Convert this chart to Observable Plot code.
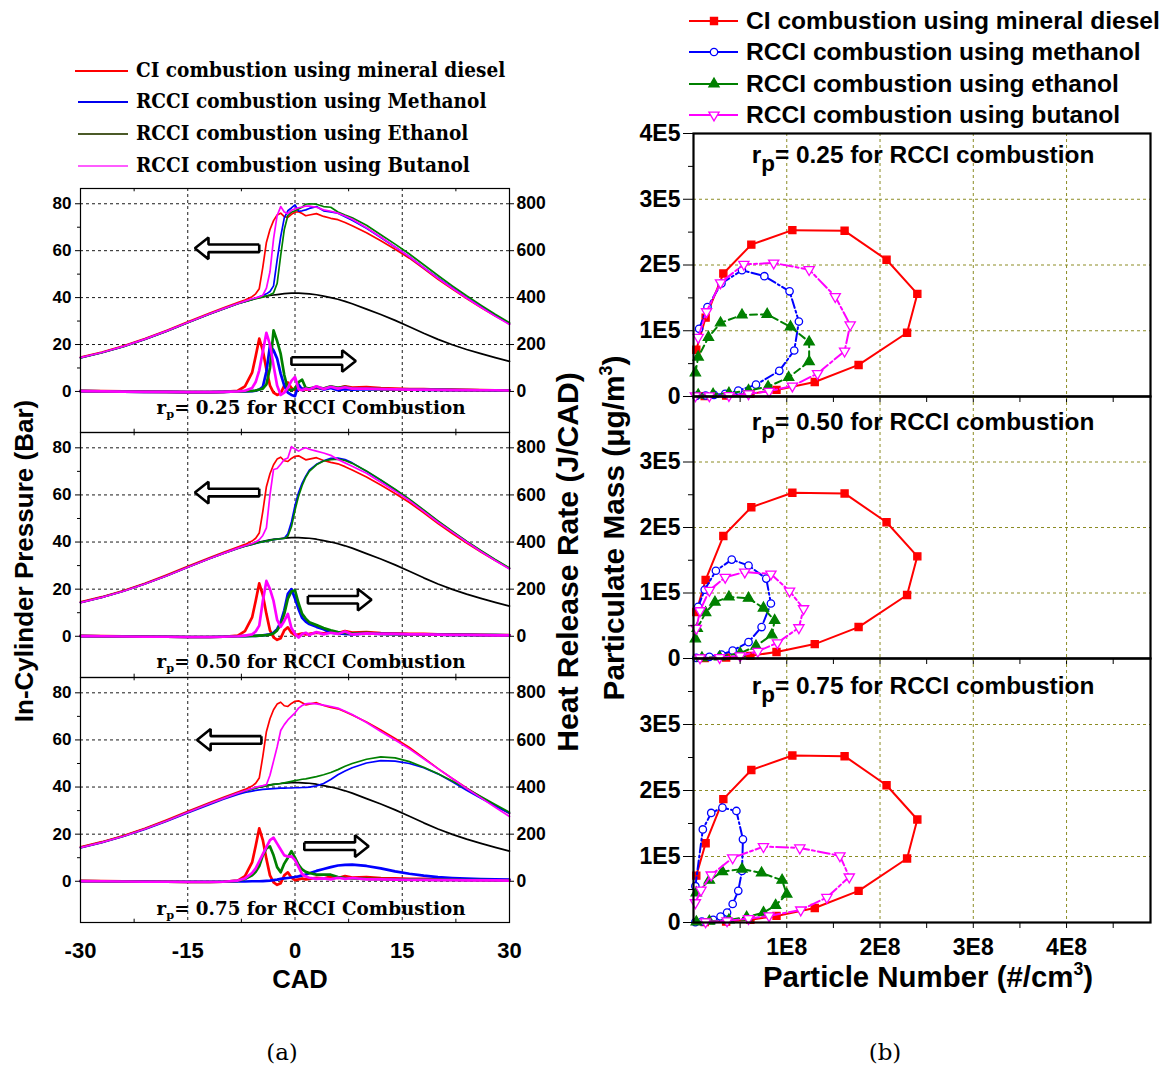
<!DOCTYPE html>
<html>
<head>
<meta charset="utf-8">
<script src="https://cdn.jsdelivr.net/npm/d3@7"></script>
<script src="https://cdn.jsdelivr.net/npm/@observablehq/plot@0.6"></script>
<style>
  html, body { margin:0; padding:0; background:#fff; }
  #root { position:relative; width:1167px; height:1068px; overflow:hidden; background:#fff; }
  .t { position:absolute; white-space:nowrap; color:#000; line-height:1; }
  .sans { font-family:"Liberation Sans", Arial, Helvetica, sans-serif; font-weight:bold; }
  .serif { font-family:"DejaVu Serif", "Liberation Serif", serif; font-weight:bold; }
  .serifn { font-family:"DejaVu Serif", "Liberation Serif", serif; font-weight:normal; }
  .c { transform:translate(-50%,-50%); }
  .l { transform:translate(0,-50%); transform-origin:0 50%; }
  .v { transform:translate(-50%,-50%) rotate(-90deg); }
  sub.a { font-size:0.62em; vertical-align:-0.35em; line-height:0; }
  sub.b { font-size:0.92em; vertical-align:-0.38em; line-height:0; }
  sup { font-size:0.6em; vertical-align:0.7em; line-height:0; }
</style>
</head>
<body>
<div id="root"></div>
<script>
// ======================= DATA =======================
// ---- Panel (a): crank angle grid (deg CAD) ----
const cad = [-30,-27,-24,-21,-18,-15,-12,-10,
  -8,-7,-6,
  -5.5,-5,-4.5,-4,-3.5,-3,-2.5,-2,-1.5,-1,-0.5,0,0.5,1,1.5,2,
  3,4,5,6,7,8,
  10,12,14,16,18,20,22,24,26,28,30];

// motoring pressure (black), bar
const motoring = [14.4,16.6,19.2,22.3,25.7,29.4,33.0,35.3,
  37.5,38.4,39.2,
  39.6,40.0,40.3,40.6,40.9,41.1,41.3,41.5,41.7,41.8,41.9,41.9,41.9,41.8,41.7,41.6,
  41.2,40.6,40.0,39.3,38.4,37.4,
  35.1,32.8,30.3,27.6,24.8,22.2,19.9,17.9,16.1,14.4,12.8];

// CI diesel (same in every r_p panel): pressure (bar) and heat release rate (J/CAD)
const dieselP = [14.6,16.8,19.4,22.5,26.0,29.7,33.3,35.6,
  37.9,39.0,40.4,
  41.6,43.8,53.0,63.5,69.0,72.8,75.2,76.0,74.5,74.2,75.5,76.4,76.6,75.8,74.9,75.2,
  75.8,74.6,73.8,73.2,72.0,70.6,
  67.6,64.2,60.6,56.8,52.4,47.8,43.6,39.6,35.8,32.2,28.8];
const dieselHRR = [2,1,0,-1,-2,-3,-3,-2,
  3,22,80,
  150,225,175,95,25,-5,-15,-8,25,38,15,5,8,12,8,10,
  15,12,20,14,22,16,
  18,14,12,10,10,8,8,7,6,5,5];

// r_p = 0.25
const methP25 = [14.3,16.5,19.1,22.2,25.6,29.3,32.9,35.2,
  37.4,38.3,39.2,
  39.7,40.3,40.9,41.6,42.6,45.0,56.0,66.0,74.0,77.0,78.2,79.5,76.8,77.0,77.4,78.0,
  78.8,77.0,76.5,76.0,74.5,73.0,
  69.5,65.6,61.6,57.4,52.8,48.4,44.2,40.0,36.2,32.4,28.8];
const ethP25 = [14.3,16.5,19.1,22.2,25.6,29.3,32.9,35.2,
  37.4,38.3,39.1,
  39.5,39.9,40.3,40.7,41.2,42.0,46.0,58.0,69.0,75.0,76.4,77.0,77.8,78.5,79.8,80.0,
  79.8,78.8,78.5,76.5,75.2,74.0,
  70.8,66.8,62.8,58.6,54.0,49.4,45.0,40.8,36.8,32.9,29.3];
const butP25 = [14.4,16.6,19.2,22.3,25.7,29.4,33.0,35.3,
  37.5,38.5,39.5,
  39.9,40.3,41.0,44.0,51.0,65.0,75.0,78.8,76.5,75.8,77.2,77.8,78.3,78.6,79.0,79.0,
  78.5,77.4,76.8,76.0,74.8,73.4,
  69.8,65.8,61.6,57.4,52.8,48.2,44.0,39.8,35.9,32.1,28.5];
const methHRR25 = [1,0,-1,-2,-2,-3,-3,-2,
  0,0,1,
  3,8,20,85,195,175,140,75,25,-5,-15,-20,30,8,15,10,
  18,8,15,5,10,8,
  10,9,8,8,7,7,6,5,5,4,4];
const ethHRR25 = [1,0,-1,-2,-2,-3,-3,-2,
  0,1,2,
  4,8,12,30,100,260,215,160,70,10,5,12,40,50,15,12,
  20,12,22,15,20,12,
  12,10,9,8,8,7,6,6,5,5,4];
const butHRR25 = [1,0,-1,-2,-2,-3,-3,-2,
  0,3,15,
  40,90,170,250,200,110,25,-15,-5,15,45,62,10,5,12,8,
  22,10,20,12,18,12,
  12,10,9,8,8,7,6,6,5,5,4];

// r_p = 0.50
const methP50 = [14.3,16.5,19.1,22.2,25.6,29.3,32.9,35.2,
  37.3,38.2,39.0,
  39.4,39.8,40.1,40.4,40.7,41.0,41.2,41.4,41.6,43.5,48.5,55.5,61.0,65.0,68.0,70.5,
  73.0,74.5,75.5,75.6,75.0,73.6,
  70.0,66.2,62.2,58.0,53.4,48.8,44.4,40.2,36.2,32.4,28.8];
const ethP50 = [14.3,16.5,19.1,22.2,25.6,29.3,32.9,35.2,
  37.3,38.2,39.0,
  39.4,39.8,40.1,40.4,40.7,41.0,41.2,41.4,41.5,42.5,46.5,53.5,59.5,64.0,67.5,70.0,
  72.8,74.4,75.0,75.2,74.6,73.4,
  70.2,66.4,62.4,58.2,53.6,49.0,44.6,40.4,36.4,32.6,29.0];
const butP50 = [14.3,16.5,19.1,22.2,25.6,29.3,32.9,35.2,
  37.4,38.4,39.4,
  40.0,41.0,42.8,46.0,60.0,70.8,71.2,73.0,75.0,75.7,80.5,79.5,78.6,79.5,80.0,79.4,
  78.6,77.8,76.8,75.0,73.6,72.2,
  69.2,65.4,61.6,57.6,53.0,48.4,44.2,40.0,36.0,32.2,28.6];
const methHRR50 = [1,0,-1,-2,-2,-3,-3,-2,
  0,1,2,
  2,3,4,6,8,15,30,60,110,180,200,160,115,78,62,52,
  40,30,15,12,10,8,
  12,10,9,8,8,7,6,6,5,5,4];
const ethHRR50 = [1,0,-1,-2,-2,-3,-3,-2,
  0,1,2,
  2,3,4,5,7,12,25,50,95,160,190,195,140,95,75,60,
  48,35,25,18,14,11,
  15,10,9,8,8,7,6,6,5,5,4];
const butHRR50 = [1,0,-1,-2,-2,-3,-3,-2,
  0,3,8,
  20,45,150,235,200,150,70,40,65,95,35,10,-5,10,15,5,
  18,8,15,10,20,8,
  12,10,10,8,8,7,6,6,5,4,4];

// r_p = 0.75
const methP75 = [14.2,16.4,19.0,22.0,25.4,29.0,32.5,34.8,
  36.9,37.7,38.3,
  38.6,38.8,39.0,39.1,39.2,39.3,39.4,39.5,39.5,39.6,39.6,39.7,39.7,39.8,39.9,40.0,
  40.5,41.5,43.2,45.2,46.8,48.2,
  50.2,51.2,51.0,50.0,48.2,45.6,42.2,38.6,35.2,32.0,28.9];
const ethP75 = [14.3,16.5,19.1,22.2,25.6,29.3,32.9,35.2,
  37.4,38.3,39.1,
  39.5,39.9,40.2,40.5,40.8,41.1,41.3,41.5,41.8,42.1,42.4,42.7,43.0,43.3,43.5,43.8,
  44.4,45.2,46.2,47.4,48.8,50.0,
  51.8,52.8,52.4,50.8,48.4,45.6,42.6,39.4,36.0,32.6,29.3];
const butP75 = [14.3,16.5,19.1,22.2,25.6,29.3,32.9,35.2,
  37.4,38.4,39.4,
  39.9,40.3,40.6,41.0,45.0,51.0,57.0,64.0,66.5,68.5,70.0,71.5,73.5,74.6,75.3,75.5,
  75.3,74.8,74.2,73.5,72.2,70.8,
  67.4,63.6,60.0,56.2,52.0,47.8,43.6,39.4,35.4,31.4,27.5];
const methHRR75 = [0,0,-1,-1,-2,-2,-2,-2,
  -1,-1,0,
  0,0,1,2,3,5,7,10,12,14,16,18,21,25,29,34,
  44,52,60,67,70,71,
  65,55,42,32,24,18,14,11,9,8,7];
const ethHRR75 = [1,0,-1,-2,-2,-3,-3,-2,
  2,10,25,
  40,65,110,140,148,110,60,38,75,100,128,100,70,50,40,35,
  28,28,28,18,14,12,
  10,9,8,8,7,6,6,5,5,4,4];
const butHRR75 = [1,0,-1,-2,-2,-3,-3,-2,
  3,12,35,
  55,85,115,145,175,185,160,135,110,105,106,90,60,30,20,15,
  10,12,8,15,10,14,
  8,8,7,6,6,5,5,4,4,4,3];

// Arrow annotations (tail CAD, tip CAD, level in bar) per r_p panel: [pressure arrow, HRR arrow]
const arrowTail = [[-5.0,-0.5],[-5.0,1.8],[-4.7,1.3]];
const arrowTip  = [[-14.0,8.5],[-14.0,10.7],[-13.7,10.3]];
const arrowLvl  = [[61,13],[61,15.5],[60,14.9]];

// ---- Panel (b): particle number (x1E8 #/cm3) vs particulate mass (x1E5 ug/m3) ----
const pnDiesel = [0.03,0.13,0.32,0.62,1.06,1.62,2.07,2.40,2.29,1.77,1.30,0.89,0.61,0.35,0.12];
const pmDiesel = [0.71,1.20,1.87,2.31,2.53,2.52,2.08,1.56,0.97,0.48,0.22,0.10,0.04,0.015,0.005];

const pnMeth25 = [0.06,0.15,0.30,0.52,0.76,1.03,1.13,1.08,0.92,0.67,0.48,0.34,0.22,0.13,0.03];
const pmMeth25 = [1.03,1.36,1.72,1.92,1.83,1.60,1.14,0.70,0.39,0.18,0.09,0.04,0.025,0.015,0.01];
const pnEth25  = [0.02,0.05,0.16,0.29,0.52,0.79,1.04,1.24,1.24,1.02,0.80,0.59,0.38,0.21,0.05];
const pmEth25  = [0.36,0.60,0.90,1.12,1.24,1.25,1.06,0.83,0.53,0.29,0.15,0.09,0.05,0.035,0.025];
const pnBut25  = [0.05,0.14,0.29,0.54,0.86,1.24,1.52,1.68,1.62,1.33,1.06,0.81,0.59,0.38,0.17,0.02];
const pmBut25  = [0.90,1.29,1.73,2.01,2.03,1.93,1.52,1.09,0.69,0.35,0.16,0.08,0.04,0.015,0.01,0.01];

const pnMeth50 = [0.05,0.12,0.24,0.41,0.59,0.78,0.83,0.73,0.59,0.42,0.30,0.17,0.03];
const pmMeth50 = [0.79,1.05,1.34,1.51,1.42,1.22,0.84,0.48,0.25,0.12,0.06,0.025,0.01];
const pnEth50  = [0.02,0.04,0.13,0.23,0.38,0.59,0.75,0.87,0.84,0.67,0.50,0.28,0.09];
const pmEth50  = [0.30,0.46,0.70,0.86,0.94,0.92,0.77,0.58,0.36,0.19,0.08,0.025,0.01];
const pnBut50  = [0.03,0.07,0.17,0.34,0.55,0.83,1.03,1.18,1.13,0.90,0.69,0.50,0.28,0.07];
const pmBut50  = [0.46,0.73,1.04,1.24,1.32,1.29,1.03,0.76,0.47,0.24,0.11,0.04,0.015,0.01];

const pnMeth75 = [0.02,0.10,0.19,0.31,0.46,0.53,0.52,0.48,0.42,0.36,0.29,0.21,0.09,0.02];
const pmMeth75 = [0.55,1.41,1.66,1.74,1.69,1.26,0.78,0.48,0.28,0.15,0.09,0.04,0.015,0.005];
const pnEth75  = [0.03,0.17,0.31,0.52,0.73,0.95,1.00,0.88,0.75,0.57,0.38,0.17,0.03];
const pmEth75  = [0.45,0.64,0.77,0.81,0.75,0.64,0.43,0.26,0.15,0.08,0.04,0.02,0.01];
const pnBut75  = [0.02,0.08,0.19,0.42,0.75,1.14,1.57,1.67,1.43,1.15,0.81,0.59,0.36,0.13];
const pmBut75  = [0.30,0.49,0.72,0.98,1.15,1.13,1.01,0.69,0.38,0.19,0.10,0.06,0.025,0.01];

// ---- Text ----
const rpValues = ["0.25","0.50","0.75"];
const legendA = ["CI combustion using mineral diesel","RCCI combustion using Methanol","RCCI combustion using Ethanol","RCCI combustion using Butanol"];
const legendB = ["CI combustion using mineral diesel","RCCI combustion using methanol","RCCI combustion using ethanol","RCCI combustion using butanol"];
const ticksCAD = [-30,-15,0,15,30];
const ticksP = [0,20,40,60,80];
const ticksPN = [1,2,3,4];
const ticksPM = [0,1,2,3,4];

// ======================= LAYOUT / DRAWING =======================
const root = document.getElementById("root");
const fSans = "'Liberation Sans', Arial, Helvetica, sans-serif";
const colA = ["#ff0000","#0000ff","#008000","#ff00ff"];
const legColA = ["#ff0000","#0000ee","#4b5a28","#ff5cff"];

function addText(html, x, y, cls) {
  const d = document.createElement("div");
  d.className = "t " + cls;
  d.innerHTML = html;
  d.style.left = x + "px"; d.style.top = y + "px";
  root.appendChild(d);
  return d;
}
function fit(el, target) {
  const w = el.offsetWidth;
  const fs = parseFloat(getComputedStyle(el).fontSize);
  const n = fs * target / w;
  el.style.fontSize = n + "px";
  return n;
}
// keep the font size (glyph height) and condense horizontally to the target width
function fitX(el, fontPx, target, base) {
  el.style.fontSize = fontPx + "px";
  const s = target / el.offsetWidth;
  el.style.transform = base + " scaleX(" + s + ")";
  return s;
}

// ---------- Panel (a) ----------
const framesA = [[188,432],[432,677],[677,922]];
const yDomA = [-17.5, 86.5];
const subA = [
  {P:[dieselP,methP25,ethP25,butP25], Q:[dieselHRR,methHRR25,ethHRR25,butHRR25]},
  {P:[dieselP,methP50,ethP50,butP50], Q:[dieselHRR,methHRR50,ethHRR50,butHRR50]},
  {P:[dieselP,methP75,ethP75,butP75], Q:[dieselHRR,methHRR75,ethHRR75,butHRR75]}
];
const rowsOf = (arr, k) => cad.map((c, i) => ({cad: c, v: arr[i] * k}));
function arrowShape(tail, tip, y, id) {
  const d = Math.sign(tip - tail), neck = tip - d * 1.9, hs = 1.6, hh = 4.6;
  return [[tail,y+hs],[neck,y+hs],[neck,y+hh],[tip,y],[neck,y-hh],[neck,y-hs],[tail,y-hs],[tail,y+hs]]
    .map(([x, yy]) => ({x, y: yy, id}));
}

subA.forEach((s, k) => {
  const [top, bot] = framesA[k];
  const last = k === 2;
  const mT = 6, mB = last ? 50 : 6;
  const dash = {stroke:"#000", strokeWidth:0.9, strokeDasharray:"3,3"};
  const marks = [
    Plot.ruleY(ticksP, {y: d => d, ...dash}),
    Plot.ruleX([-15,0,15], {x: d => d, ...dash}),
    Plot.ruleX([-22.5,-7.5,7.5,22.5], {x: d => d, y1: yDomA[1], y2: yDomA[1] - 1.4, stroke:"#000"}),
    Plot.ruleX([-22.5,-7.5,7.5,22.5], {x: d => d, y1: yDomA[0], y2: yDomA[0] + 1.4, stroke:"#000"}),
    Plot.line(rowsOf(motoring, 1), {x:"cad", y:"v", stroke:"#000", strokeWidth:1.7})
  ];
  s.P.forEach((arr, j) => marks.push(Plot.line(rowsOf(arr, 1), {x:"cad", y:"v", stroke:colA[j], strokeWidth:1.7})));
  s.Q.forEach((arr, j) => marks.push(Plot.line(rowsOf(arr, 0.1), {x:"cad", y:"v", stroke:colA[j], strokeWidth:2.7})));
  const arrows = [
    ...arrowShape(arrowTail[k][0], arrowTip[k][0], arrowLvl[k][0], "p"),
    ...arrowShape(arrowTail[k][1], arrowTip[k][1], arrowLvl[k][1], "h")
  ];
  marks.push(Plot.line(arrows, {x:"x", y:"y", z:"id", fill:"#fff", stroke:"#000", strokeWidth:2.6, strokeLinejoin:"miter", strokeLinecap:"butt"}));
  marks.push(Plot.frame({stroke:"#000", strokeWidth:1.2}));
  marks.push(Plot.axisY({anchor:"left", ticks:ticksP, tickSize:5, tickPadding:4, label:null, fontSize:17}));
  marks.push(Plot.axisY({anchor:"left", ticks:[10,30,50,70], tickSize:3, tickFormat:() => "", label:null}));
  marks.push(Plot.axisY({anchor:"right", ticks:ticksP, tickSize:4, tickPadding:3, tickFormat: d => String(d * 10), label:null, fontSize:17.5}));
  if (last) marks.push(Plot.axisX({anchor:"bottom", ticks:ticksCAD, tickSize:0, tickPadding:20, tickFormat: d => String(d), label:null, fontSize:22}));
  const svg = Plot.plot({
    width:560, height:(bot - top) + mT + mB,
    marginLeft:80, marginRight:51, marginTop:mT, marginBottom:mB,
    x:{domain:[-30,30], axis:null},
    y:{domain:yDomA, axis:null},
    style:{background:"transparent", overflow:"visible", fontFamily:fSans, fontWeight:"bold", fontSize:"17px", color:"#000"},
    marks
  });
  svg.style.position = "absolute"; svg.style.left = "0px"; svg.style.top = (top - mT) + "px";
  root.appendChild(svg);
});

// ---------- Panel (b) ----------
const framesB = [[133,396],[396,658],[658,922]];
const triDown = { draw(ctx, size) { const y = -Math.sqrt(size / (Math.sqrt(3) * 3)); ctx.moveTo(0, -y * 2); ctx.lineTo(-Math.sqrt(3) * y, y); ctx.lineTo(Math.sqrt(3) * y, y); ctx.closePath(); } };
const stB = [
  {color:"#ff0000", symbol:"square", r:4.0, fill:"#ff0000", dash:undefined},
  {color:"#0000ff", symbol:"circle", r:3.7, fill:"#ffffff", dash:"9,3,2,3"},
  {color:"#008000", symbol:"triangle", r:3.8, fill:"#008000", dash:"7,4"},
  {color:"#ff00ff", symbol:triDown, r:3.8, fill:"#ffffff", dash:"12,3,3,3"}
];
const subB = [
  [[pnDiesel,pmDiesel],[pnMeth25,pmMeth25],[pnEth25,pmEth25],[pnBut25,pmBut25]],
  [[pnDiesel,pmDiesel],[pnMeth50,pmMeth50],[pnEth50,pmEth50],[pnBut50,pmBut50]],
  [[pnDiesel,pmDiesel],[pnMeth75,pmMeth75],[pnEth75,pmEth75],[pnBut75,pmBut75]]
];
const olive = {stroke:"#8c8c24", strokeWidth:1, strokeDasharray:"3,3"};
subB.forEach((ser, k) => {
  const [top, bot] = framesB[k];
  const last = k === 2;
  const mT = 14, mB = last ? 45 : 12;
  const marks = [
    Plot.ruleX(ticksPN, {x: d => d, ...olive}),
    Plot.ruleY([1,2,3], {y: d => d, ...olive})
  ];
  ser.forEach(([pn, pm], j) => {
    const data = pn.map((x, i) => ({pn: x, pm: pm[i]}));
    const st = stB[j];
    marks.push(Plot.line(data, {x:"pn", y:"pm", stroke:st.color, strokeWidth:2, strokeDasharray:st.dash}));
    marks.push(Plot.dot(data, {x:"pn", y:"pm", symbol:st.symbol, r:st.r, fill:st.fill, stroke:st.color, strokeWidth:1.3}));
  });
  marks.push(Plot.frame({stroke:"#000", strokeWidth:2.2}));
  const yt = k === 0 ? ticksPM : ticksPM.slice(0, 4);
  marks.push(Plot.axisY({anchor:"left", ticks:yt, tickSize:10, tickPadding:3, label:null, fontSize:23,
    tickFormat: d => d === 0 ? "0" : d + "E5"}));
  marks.push(Plot.axisY({anchor:"left", ticks:[0.5,1.5,2.5,3.5], tickSize:5, tickFormat:() => "", label:null}));
  marks.push(Plot.axisX({anchor:"bottom", ticks:[0.5,1,1.5,2,2.5,3,3.5,4,4.5], tickSize:6, tickPadding:10, label:null, fontSize:23,
    tickFormat: d => (last && Number.isInteger(d)) ? d + "E8" : ""}));
  const svg = Plot.plot({
    width:560, height:(bot - top) + mT + mB,
    marginLeft:93, marginRight:10, marginTop:mT, marginBottom:mB,
    x:{domain:[0,4.9], axis:null},
    y:{domain:[0,4], axis:null},
    style:{background:"transparent", overflow:"visible", fontFamily:fSans, fontWeight:"bold", fontSize:"22px", color:"#000"},
    marks
  });
  svg.style.position = "absolute"; svg.style.left = "600px"; svg.style.top = (top - mT) + "px";
  root.appendChild(svg);
});

// ---------- Legends ----------
const legYA = [71, 102, 134, 166];
let sA = null;
legendA.forEach((txt, i) => {
  const sw = d3.create("svg").attr("width", 60).attr("height", 6)
    .style("position","absolute").style("left","72px").style("top",(legYA[i]-3)+"px");
  sw.append("line").attr("x1", i === 0 ? 3 : 6).attr("x2", 56).attr("y1", 3).attr("y2", 3)
    .attr("stroke", legColA[i]).attr("stroke-width", 2);
  root.appendChild(sw.node());
  const el = addText(txt, 136, legYA[i], "serif l");
  if (i === 0) sA = fitX(el, 19.5, 369, "translate(0,-50%)");
  else { el.style.fontSize = "19.5px"; el.style.transform = "translate(0,-50%) scaleX(" + sA + ")"; }
});

const legYB = [21, 52, 84, 115];
const symMap = {square:d3.symbolSquare, circle:d3.symbolCircle, triangle:d3.symbolTriangle};
let fsB = null;
legendB.forEach((txt, i) => {
  const st = stB[i];
  const sw = d3.create("svg").attr("width", 52).attr("height", 16)
    .style("position","absolute").style("left","688px").style("top",(legYB[i]-8)+"px");
  sw.append("line").attr("x1", 1).attr("x2", 50).attr("y1", 8).attr("y2", 8).attr("stroke", st.color).attr("stroke-width", 2);
  const sym = typeof st.symbol === "string" ? symMap[st.symbol] : st.symbol;
  sw.append("path").attr("d", d3.symbol(sym, st.r * st.r * Math.PI)()).attr("transform","translate(26,8)")
    .attr("fill", st.fill).attr("stroke", st.color).attr("stroke-width", 1.3);
  root.appendChild(sw.node());
  const el = addText(txt, 746, legYB[i], "sans l");
  el.style.fontSize = "24px";
  if (i === 0) fsB = fit(el, 414); else el.style.fontSize = fsB + "px";
});

// ---------- Panel labels ----------
const labYA = [407, 661, 908];
let sR = null;
rpValues.forEach((rp, k) => {
  const el = addText(`r<sub class="a">p</sub>= ${rp} for RCCI Combustion`, 311, labYA[k], "serif c");
  if (k === 0) sR = fitX(el, 19, 309, "translate(-50%,-50%)");
  else { el.style.fontSize = "19px"; el.style.transform = "translate(-50%,-50%) scaleX(" + sR + ")"; }
});
const labYB = [155, 422, 686];
let fsRB = null;
rpValues.forEach((rp, k) => {
  const el = addText(`r<sub class="b">p</sub>= ${rp} for RCCI combustion`, 923, labYB[k], "sans c");
  el.style.fontSize = "24px";
  if (k === 0) fsRB = fit(el, 343); else el.style.fontSize = fsRB + "px";
});

// ---------- Axis titles ----------
fit(addText("In-Cylinder Pressure (Bar)", 24, 561, "sans v"), 322);
fit(addText("Heat Release Rate (J/CAD)", 568, 562, "sans v"), 380);
fit(addText("CAD", 300, 980, "sans c"), 56);
fit(addText("Particulate Mass (&mu;g/m<sup>3</sup>)", 614, 528, "sans v"), 345);
fit(addText("Particle Number (#/cm<sup>3</sup>)", 928, 977, "sans c"), 331);
const ca = addText("(a)", 282, 1052, "serifn c"); ca.style.fontSize = "23px";
const cb = addText("(b)", 885, 1052, "serifn c"); cb.style.fontSize = "23px";
</script>
</body>
</html>
